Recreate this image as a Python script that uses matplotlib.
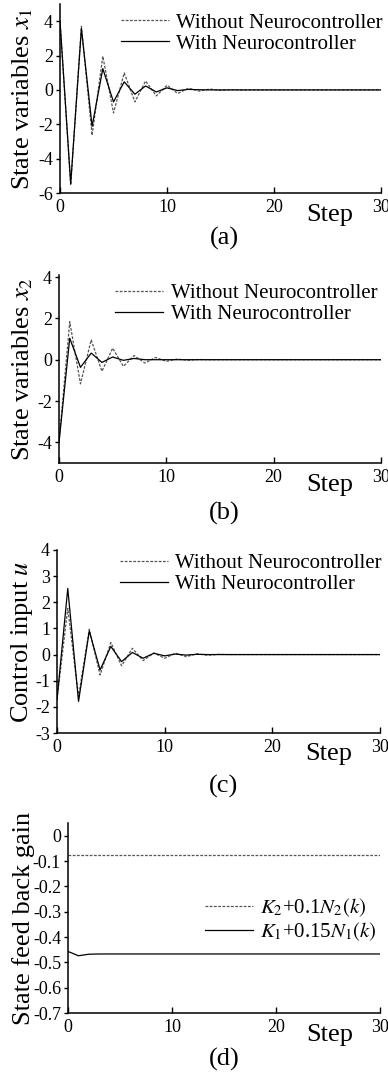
import matplotlib
matplotlib.use("Agg")
import matplotlib.pyplot as plt
import numpy as np
from matplotlib import rcParams

rcParams['font.family'] = ['Liberation Serif', 'DejaVu Serif']
rcParams['mathtext.fontset'] = 'stix'
rcParams['axes.unicode_minus'] = False

# data
x1_without = [4.0, -5.55, 3.7, -2.64, 1.96, -1.34, 0.99, -0.7, 0.52, -0.35, 0.27, -0.21,
              0.1, -0.07, 0.05, -0.03, 0.02, -0.01] + [0.0] * 13
x1_with = [4.0, -5.46, 3.57, -2.12, 1.24, -0.7, 0.47, -0.25, 0.23, -0.12, 0.12, -0.04,
           0.03, 0.01] + [0.0] * 17
x2_without = [-4.0, 1.84, -1.17, 0.96, -0.56, 0.56, -0.32, 0.2, -0.16, 0.11, -0.08, 0.03,
              -0.03, 0.01] + [0.0] * 17
x2_with = [-4.0, 1.04, -0.37, 0.32, -0.13, 0.13, -0.03, 0.06, 0.0] + [0.0] * 22
u_without = [-1.7, 1.77, -1.6, 0.97, -0.78, 0.46, -0.43, 0.24, -0.23, 0.06, -0.14, 0.05,
             -0.08, 0.03, -0.03, 0.01] + [0.0] * 15
u_with = [-1.73, 2.53, -1.79, 0.9, -0.59, 0.31, -0.27, 0.08, -0.14, 0.05, -0.05, 0.02,
          -0.02, 0.01] + [0.0] * 17
gain2 = [-0.075] * 31
gain1 = [-0.457, -0.474, -0.468] + [-0.467] * 28
steps = np.arange(31)

labels_ab = ['Without Neurocontroller', 'With Neurocontroller']
labels_d = [r'$K_2$+0.1$N_2(k)$', r'$K_1$+0.15$N_1(k)$']

W, H = 388, 1072
fig = plt.figure(figsize=(W / 100, H / 100), dpi=100)


def box(l, r, t, b):
    return [l / W, 1 - b / H, (r - l) / W, (b - t) / H]


dash = dict(color='#555555', lw=0.9, linestyle=(0, (2.2, 1.2)))
solid = dict(color='black', lw=0.9)

panels = [
    ((60, 381, 4, 193), x1_without, x1_with, labels_ab, (-6, 5), np.arange(-6, 5, 2),
     'State variables $x_1$', '(a)', 238, (0.19, 0.952)),
    ((59, 381, 275, 463), x2_without, x2_with, labels_ab, (-5, 4.1), np.arange(-4, 5, 2),
     'State variables $x_2$', '(b)', 513, (0.175, 0.953)),
    ((57, 380, 550, 733), u_without, u_with, labels_ab, (-3, 4), np.arange(-3, 5, 1),
     'Control input $u$', '(c)', 786, (0.194, 0.98)),
    ((68, 380, 823, 1013), gain2, gain1, labels_d, (-0.7, 0.05), np.round(np.arange(-0.7, 0.01, 0.1), 1),
     'State feed back gain', '(d)', 1059, (0.44, 0.614)),
]

for px, ya, yb, labs, ylim, yticks, ylab, tag, ty, lpos in panels:
    ax = fig.add_axes(box(*px))
    ax.plot(steps, ya, label=labs[0], **dash)
    ax.plot(steps, yb, label=labs[1], **solid)
    ax.set_xlim(0, 30)
    ax.set_ylim(*ylim)
    ax.set_xticks([0, 10, 20, 30])
    ax.set_yticks(yticks)
    ax.set_yticklabels([('%g' % (v if v != 0 else 0)) for v in yticks])
    ax.spines['top'].set_visible(False)
    ax.spines['right'].set_visible(False)
    for s in ['left', 'bottom']:
        ax.spines[s].set_linewidth(1.1)
    ax.tick_params(axis='x', direction='in', length=4, width=1, labelsize=13, pad=4)
    ax.tick_params(axis='y', direction='out', length=3, width=1, labelsize=13, pad=2)
    ax.set_ylabel(ylab, fontsize=19)
    ax.yaxis.set_label_coords((35 - px[0]) / (px[1] - px[0]), 0.5)
    ax.set_xlabel('Step', fontsize=19)
    ax.xaxis.set_label_coords(0.84, -0.056)
    ax.legend(loc='upper left', bbox_to_anchor=lpos, frameon=False, fontsize=15,
              handlelength=2.3, handletextpad=0.35, labelspacing=0.07, borderpad=0,
              borderaxespad=0)
    fig.text(224 / W, 1 - ty / H, tag, fontsize=19, ha='center', va='center')

plt.savefig('out.png', dpi=100)
